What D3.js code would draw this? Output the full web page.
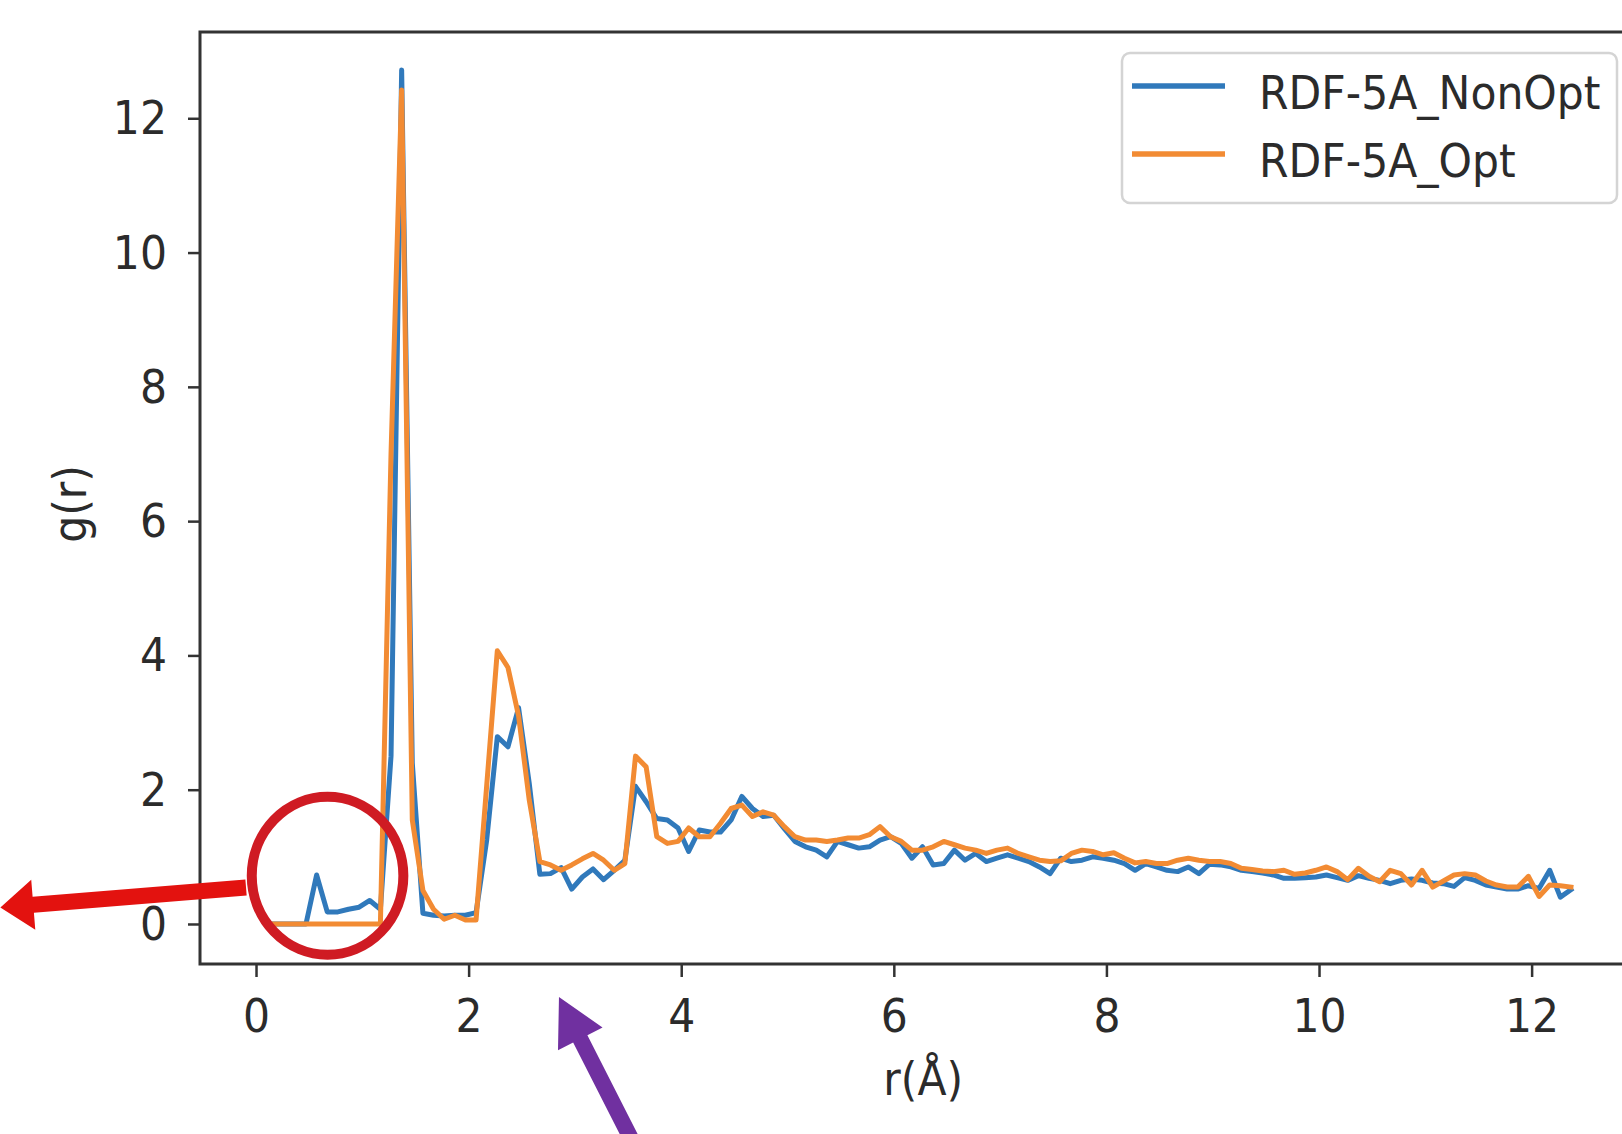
<!DOCTYPE html>
<html>
<head>
<meta charset="utf-8">
<script src="https://cdn.jsdelivr.net/npm/d3@7"></script>
<style>
  html, body { margin: 0; padding: 0; background: #ffffff; }
  svg { display: block; }
  text { font-family: "DejaVu Sans", sans-serif; }
</style>
</head>
<body>
<svg id="chart" width="1622" height="1134"></svg>
<script>
// ---- data ----
const rValues = [
  0.17,0.27,0.37,0.47,0.57,0.67,0.77,0.87,0.97,1.07,
  1.17,1.27,1.37,1.47,1.57,1.67,1.77,1.87,1.97,2.07,
  2.17,2.27,2.37,2.47,2.57,2.67,2.77,2.87,2.97,3.07,
  3.17,3.27,3.37,3.47,3.57,3.67,3.77,3.87,3.97,4.07,
  4.17,4.27,4.37,4.47,4.57,4.67,4.77,4.87,4.97,5.07,
  5.17,5.27,5.37,5.47,5.57,5.67,5.77,5.87,5.97,6.07,
  6.17,6.27,6.37,6.47,6.57,6.67,6.77,6.87,6.97,7.07,
  7.17,7.27,7.37,7.47,7.57,7.67,7.77,7.87,7.97,8.07,
  8.17,8.27,8.37,8.47,8.57,8.67,8.77,8.87,8.97,9.07,
  9.17,9.27,9.37,9.47,9.57,9.67,9.77,9.87,9.97,10.07,
  10.17,10.27,10.37,10.47,10.57,10.67,10.77,10.87,10.97,11.07,
  11.17,11.27,11.37,11.47,11.57,11.67,11.77,11.87,11.97,12.07,
  12.17,12.27,12.37
];
const rdfNonOpt = [
  0,0,0,0,0.73,0.18,0.18,0.22,0.25,0.35,
  0.22,2.5,12.72,2.4,0.16,0.13,0.12,0.13,0.13,0.17,
  1.25,2.79,2.64,3.22,2.1,0.74,0.75,0.84,0.52,0.70,
  0.82,0.66,0.80,0.95,2.05,1.82,1.57,1.55,1.43,1.08,
  1.40,1.37,1.37,1.55,1.90,1.72,1.60,1.62,1.42,1.23,
  1.15,1.10,1.00,1.23,1.18,1.13,1.15,1.25,1.30,1.20,
  0.98,1.15,0.88,0.90,1.10,0.95,1.05,0.93,0.98,1.03,
  0.98,0.93,0.85,0.75,0.98,0.93,0.95,1.00,0.98,0.95,
  0.90,0.80,0.90,0.85,0.80,0.78,0.85,0.75,0.89,0.88,
  0.85,0.80,0.78,0.76,0.73,0.68,0.68,0.69,0.70,0.73,
  0.69,0.65,0.72,0.68,0.65,0.60,0.65,0.67,0.65,0.61,
  0.60,0.56,0.69,0.65,0.58,0.55,0.52,0.52,0.57,0.53,
  0.80,0.40,0.51
];
const rdfOpt = [
  0,0,0,0,0,0,0,0,0,0,
  0,7.0,12.42,1.55,0.5,0.22,0.07,0.13,0.06,0.06,
  2.06,4.07,3.82,3.1,1.85,0.93,0.88,0.80,0.88,0.97,
  1.05,0.95,0.80,0.90,2.5,2.34,1.30,1.20,1.23,1.43,
  1.30,1.30,1.50,1.72,1.77,1.60,1.67,1.62,1.45,1.30,
  1.25,1.25,1.23,1.25,1.28,1.28,1.33,1.45,1.30,1.23,
  1.10,1.10,1.15,1.23,1.18,1.13,1.10,1.05,1.10,1.13,
  1.05,1.00,0.95,0.93,0.94,1.05,1.10,1.08,1.03,1.06,
  0.98,0.91,0.93,0.90,0.90,0.95,0.98,0.95,0.93,0.93,
  0.90,0.83,0.81,0.79,0.78,0.80,0.74,0.76,0.80,0.85,
  0.78,0.66,0.83,0.71,0.63,0.80,0.75,0.58,0.80,0.55,
  0.64,0.73,0.75,0.73,0.64,0.58,0.55,0.55,0.71,0.41,
  0.58,0.57,0.55
];
const seriesNames = ["RDF-5A_NonOpt", "RDF-5A_Opt"];
const seriesColors = ["#3079bb", "#f28b33"];
const xTickValues = [0, 2, 4, 6, 8, 10, 12];
const yTickValues = [0, 2, 4, 6, 8, 10, 12];
const xLabel = "r(Å)";
const yLabel = "g(r)";

// ---- layout ----
const svg = d3.select("#chart");
const x = d3.scaleLinear().domain([-0.527, 13.08]).range([200, 200 + 13.607 * 106.3]);
const y = d3.scaleLinear().domain([-0.596, 13.285]).range([964, 32]);
const FONT = 46, SX = 0.925, INK = "#2b2b2b", SPINE = "#333333";

svg.append("rect").attr("width", 1622).attr("height", 1134).attr("fill", "#ffffff");

const series = [rdfNonOpt, rdfOpt].map((vals, i) => ({
  name: seriesNames[i], color: seriesColors[i],
  points: rValues.map((r, j) => ({ r, g: vals[j] }))
}));

const line = d3.line().x(d => x(d.r)).y(d => y(d.g));
svg.append("g").selectAll("path").data(series).join("path")
  .attr("d", d => line(d.points))
  .attr("fill", "none")
  .attr("stroke", d => d.color)
  .attr("stroke-width", 5)
  .attr("stroke-linejoin", "round")
  .attr("stroke-linecap", "square");

// ---- axes ----
const [x0, x1] = x.range(), [yb, yt] = y.range();
const xAxis = svg.append("g").attr("transform", `translate(0,${yb})`)
  .call(d3.axisBottom(x).tickValues(xTickValues).tickFormat(d3.format("d")).tickSize(13).tickPadding(0));
const yAxis = svg.append("g").attr("transform", `translate(${x0},0)`)
  .call(d3.axisLeft(y).tickValues(yTickValues).tickFormat(d3.format("d")).tickSize(12).tickPadding(0));
[xAxis, yAxis].forEach(a => {
  a.select(".domain").remove();
  a.selectAll(".tick line").attr("stroke", SPINE).attr("stroke-width", 2.5);
  a.selectAll(".tick text").attr("fill", INK).attr("font-size", FONT)
    .attr("font-family", "DejaVu Sans").attr("x", 0).attr("y", 0).attr("dy", 0);
});
xAxis.selectAll(".tick text").attr("text-anchor", "middle")
  .attr("transform", `translate(0,68) scale(${SX},1)`);
yAxis.selectAll(".tick text").attr("text-anchor", "end")
  .attr("transform", `translate(-33,15.5) scale(${SX},1)`);

// spines
svg.append("rect").attr("x", x0).attr("y", yt).attr("width", x1 - x0).attr("height", yb - yt)
  .attr("fill", "none").attr("stroke", SPINE).attr("stroke-width", 3);

// axis labels
svg.append("text").attr("transform", `translate(${(x0 + x1) / 2},1095) scale(${SX},1)`)
  .attr("text-anchor", "middle").attr("font-size", FONT).attr("fill", INK).text(xLabel);
svg.append("text").attr("transform", `translate(86,504) rotate(-90) scale(${SX},1)`)
  .attr("text-anchor", "middle").attr("font-size", FONT).attr("fill", INK).text(yLabel);

// ---- legend ----
const lg = svg.append("g").attr("transform", "translate(1122,53)");
lg.append("rect").attr("width", 495).attr("height", 150).attr("rx", 8)
  .attr("fill", "#ffffff").attr("fill-opacity", 0.85).attr("stroke", "#d4d4d4").attr("stroke-width", 2.5);
const items = lg.selectAll("g.item").data(series).join("g").attr("class", "item")
  .attr("transform", (d, i) => `translate(0,${33 + i * 68})`);
items.append("line").attr("x1", 10).attr("x2", 103).attr("y1", 0).attr("y2", 0)
  .attr("stroke", d => d.color).attr("stroke-width", 5.5);
items.append("text").attr("transform", `translate(137,22.5) scale(${SX},1)`)
  .attr("font-size", FONT).attr("fill", INK).text(d => d.name);

// ---- annotations (in data coordinates) ----
const ann = svg.append("g");
const circleC = { r: 0.673, g: 0.718 }, circleR = { r: 0.713, g: 1.177 };
ann.append("ellipse").attr("cx", x(circleC.r)).attr("cy", y(circleC.g))
  .attr("rx", x(circleR.r) - x(0)).attr("ry", y(0) - y(circleR.g))
  .attr("fill", "none").attr("stroke", "#cf1b23").attr("stroke-width", 10);

function arrow(tail, tip, headLen, headW, shaftW, color) {
  const tx = x(tail.r), ty = y(tail.g), px = x(tip.r), py = y(tip.g);
  const dx = px - tx, dy = py - ty, L = Math.hypot(dx, dy);
  const ux = dx / L, uy = dy / L, nx = -uy, ny = ux;
  const bx = px - ux * headLen, by = py - uy * headLen;
  const pts = [
    [tx + nx * shaftW / 2, ty + ny * shaftW / 2],
    [bx + nx * shaftW / 2, by + ny * shaftW / 2],
    [bx + nx * headW / 2, by + ny * headW / 2],
    [px, py],
    [bx - nx * headW / 2, by - ny * headW / 2],
    [bx - nx * shaftW / 2, by - ny * shaftW / 2],
    [tx - nx * shaftW / 2, ty - ny * shaftW / 2]
  ];
  ann.append("path").attr("d", "M" + pts.map(p => p.join(",")).join("L") + "Z").attr("fill", color);
}
arrow({ r: -0.094, g: 0.544 }, { r: -2.405, g: 0.246 }, 33, 50, 16, "#e3120f");
arrow({ r: 3.706, g: -3.753 }, { r: 2.850, g: -1.087 }, 47, 50, 16, "#7030a0");
</script>
</body>
</html>
